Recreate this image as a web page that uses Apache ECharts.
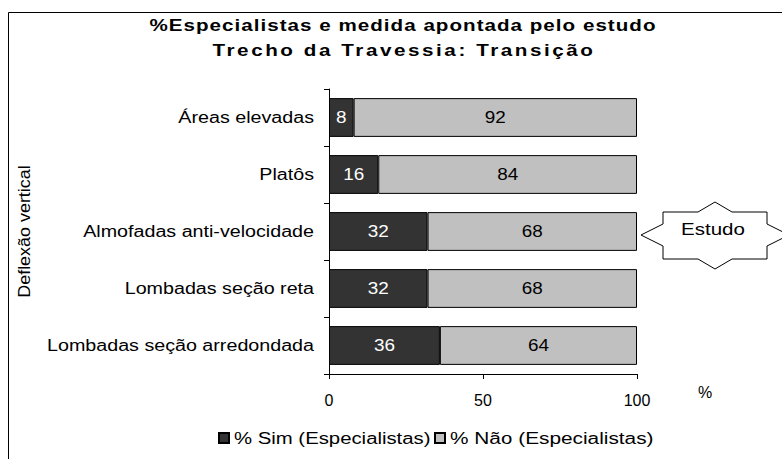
<!DOCTYPE html>
<html>
<head>
<meta charset="utf-8">
<script src="https://cdn.jsdelivr.net/npm/echarts@6/dist/echarts.min.js"></script>
<style>html,body{margin:0;padding:0;background:#fff}#chart{width:782px;height:459px}</style>
</head>
<body>
<div id="chart"></div>
<script>
const titleLines = ['%Especialistas e medida apontada pelo estudo', 'Trecho da Travessia: Transição'];
const categories = ['Áreas elevadas', 'Platôs', 'Almofadas anti-velocidade', 'Lombadas seção reta', 'Lombadas seção arredondada'];
const simValues = [8, 16, 32, 32, 36];
const naoValues = [92, 84, 68, 68, 64];
const seriesNames = ['% Sim (Especialistas)', '% Não (Especialistas)'];
const xTickLabels = [0, 50, 100];
const axisTitleY = 'Deflexão vertical';
const axisTitleX = '%';
const calloutText = 'Estudo';

const FONT = 'Liberation Sans, Arial, sans-serif';
const chart = echarts.init(document.getElementById('chart'), null, { renderer: 'svg' });

// callout shape (relative to its centre)
const cx = 715, cy = 235;
const star = [[-74,0],[-52,-11],[-52,-23],[-17,-23],[0,-33],[17,-23],[52,-23],[52,-11],[74,0],[52,11],[52,24],[17,24],[0,34],[-17,24],[-52,24],[-52,11]];

const legendBase = {
  top: 430, padding: 0, itemWidth: 10, itemHeight: 10, itemGap: 8, icon: 'rect',
  textStyle: { fontSize: 16, color: '#000', fontFamily: FONT }
};

chart.setOption({
  animation: false,
  backgroundColor: '#fff',
  grid: { left: 329, right: 145, top: 89, bottom: 85, containLabel: false },
  xAxis: {
    type: 'value', min: xTickLabels[0], max: xTickLabels[xTickLabels.length - 1], interval: 50,
    splitLine: { show: false },
    axisLine: { show: true, lineStyle: { color: '#000', width: 1 } },
    axisTick: { show: true, length: 5, lineStyle: { color: '#000' } },
    axisLabel: { fontSize: 16, color: '#000', fontFamily: FONT, margin: 18 }
  },
  yAxis: {
    type: 'category', data: categories, inverse: true,
    name: axisTitleY, nameLocation: 'middle', nameGap: 297,
    nameTextStyle: { fontSize: 16, color: '#000', fontFamily: FONT },
    axisLine: { show: true, lineStyle: { color: '#000', width: 1 } },
    axisTick: { show: true, length: 5, lineStyle: { color: '#000' } },
    axisLabel: { fontSize: 16, color: '#000', fontFamily: FONT, margin: 15 }
  },
  legend: [
    Object.assign({ left: 218, data: [seriesNames[0]] }, legendBase),
    Object.assign({ left: 434, data: [seriesNames[1]] }, legendBase)
  ],
  series: [
    {
      name: seriesNames[0], type: 'bar', stack: 'total', data: simValues, barWidth: '68%',
      itemStyle: { color: '#333333', borderColor: '#000', borderWidth: 1 },
      label: { show: true, position: 'inside', color: '#fff', fontSize: 16, fontFamily: FONT }
    },
    {
      name: seriesNames[1], type: 'bar', stack: 'total', data: naoValues, barWidth: '68%',
      itemStyle: { color: '#c0c0c0', borderColor: '#000', borderWidth: 1 },
      label: { show: true, position: 'inside', color: '#000', fontSize: 16, fontFamily: FONT }
    }
  ],
  graphic: [
    { type: 'rect', silent: true, shape: { x: 8.5, y: 12.5, width: 800, height: 470 }, style: { fill: 'none', stroke: '#000', lineWidth: 1 } },
    { type: 'text', style: { text: titleLines[0], x: 403, y: 25, align: 'center', verticalAlign: 'middle', font: 'bold 16px ' + FONT, fill: '#000' } },
    { type: 'text', style: { text: titleLines[1], x: 404, y: 50, align: 'center', verticalAlign: 'middle', font: 'bold 16px ' + FONT, fill: '#000' } },
    { type: 'text', style: { text: axisTitleX, x: 705, y: 392, align: 'center', verticalAlign: 'middle', font: '16px ' + FONT, fill: '#000' } },
    { type: 'polygon', x: cx, y: cy, shape: { points: star }, style: { fill: '#fff', stroke: '#000', lineWidth: 1 } },
    { type: 'text', style: { text: calloutText, x: 713, y: 229, align: 'center', verticalAlign: 'middle', font: '16px ' + FONT, fill: '#000' } }
  ]
});

// The reference's typography is horizontally stretched: widen glyphs (SVG textLength)
const stretch = new Map();
categories.forEach(c => stretch.set(c, { k: 1.23 }));
stretch.set(seriesNames[0], { k: 1.27 });
stretch.set(seriesNames[1], { k: 1.3 });
stretch.set(titleLines[0], { ls: 0.8, target: 507 });
stretch.set(titleLines[1], { ls: 2, target: 383 });
stretch.set(calloutText, { k: 1.28 });
stretch.set(axisTitleY, { k: 1.12 });
simValues.concat(naoValues).forEach(v => stretch.set(String(v), { k: 1.18 }));
function applyStretch() {
  document.querySelectorAll('#chart text').forEach(t => {
    const cfg = stretch.get(t.textContent);
    if (!cfg || t.getAttribute('data-st')) return;
    if (cfg.ls) t.style.letterSpacing = cfg.ls + 'px';
    const w = t.getComputedTextLength();
    const target = cfg.target || w * cfg.k;
    t.setAttribute('textLength', target.toFixed(1));
    t.setAttribute('lengthAdjust', 'spacingAndGlyphs');
    t.setAttribute('data-st', '1');
  });
}
applyStretch();
chart.on('finished', applyStretch);
</script>
</body>
</html>
